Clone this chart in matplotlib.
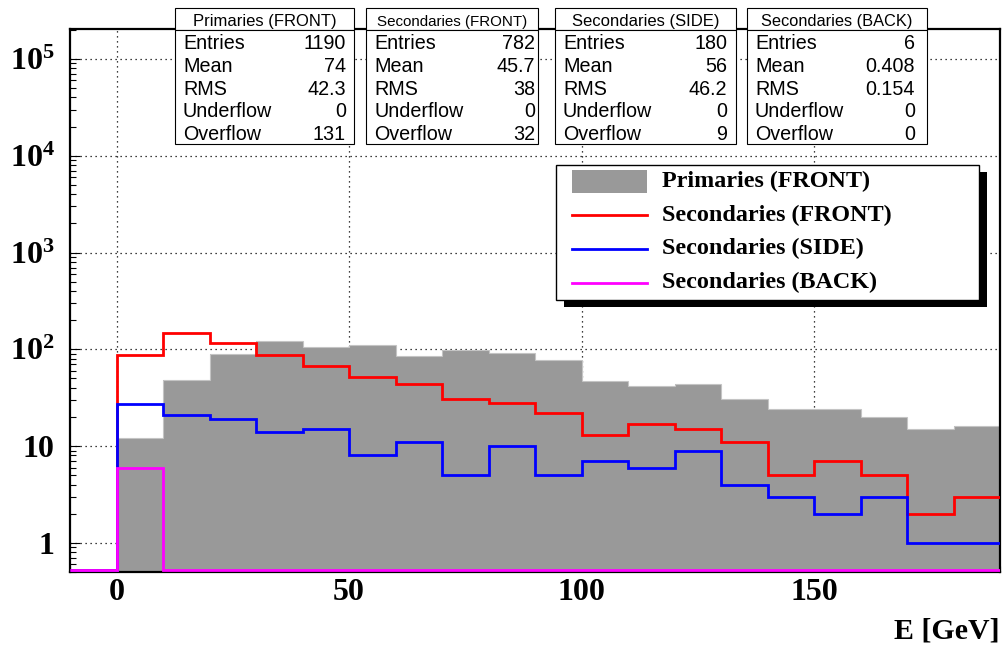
import numpy as np
import matplotlib
matplotlib.use("Agg")
import matplotlib.pyplot as plt
from matplotlib.patches import Rectangle
from matplotlib.lines import Line2D
from matplotlib.transforms import Affine2D
from matplotlib.ticker import MultipleLocator, LogLocator, NullFormatter

# ---- data (bin contents, 10 GeV bins from -10 to 190)
bin_edges = np.arange(-10, 200, 10)
primaries_front = np.array([0, 12, 48, 90, 122, 105, 112, 85, 99, 92, 77, 47, 42, 44, 31, 24, 24, 20, 15, 16])
secondaries_front = np.array([0, 88, 147, 115, 87, 67, 52, 44, 31, 28, 22, 13, 17, 15, 11, 5, 7, 5, 2, 3])
secondaries_side = np.array([0, 27, 21, 19, 14, 15, 8, 11, 5, 10, 5, 7, 6, 9, 4, 3, 2, 3, 1, 1])
secondaries_back = np.array([0, 6, 0, 0, 0, 0, 0, 0, 0, 0, 0, 0, 0, 0, 0, 0, 0, 0, 0, 0])

series_names = ["Primaries (FRONT)", "Secondaries (FRONT)", "Secondaries (SIDE)", "Secondaries (BACK)"]
line_colors = ["red", "blue", "magenta"]

stat_names = ["Entries", "Mean", "RMS", "Underflow", "Overflow"]
stat_values = [
    ["1190", "74", "42.3", "0", "131"],
    ["782", "45.7", "38", "0", "32"],
    ["180", "56", "46.2", "0", "9"],
    ["6", "0.408", "0.154", "0", "0"],
]

xticks = [0, 50, 100, 150]
yticks = [1, 10, 100, 1e3, 1e4, 1e5]
ytick_labels = ["1", "10", r"$10^{2}$", r"$10^{3}$", r"$10^{4}$", r"$10^{5}$"]

# ---- style
W, H = 1005, 647
serif_bold = dict(family="Liberation Serif", weight="bold")
plt.rcParams["mathtext.fontset"] = "custom"
plt.rcParams["mathtext.rm"] = "Liberation Serif:bold"
plt.rcParams["mathtext.bf"] = "Liberation Serif:bold"
plt.rcParams["mathtext.it"] = "Liberation Serif:bold"

ymin, ymax = 0.5, 2.04e5
floor = 0.52   # empty bins are drawn on the bottom of the frame, like ROOT does

fig = plt.figure(figsize=(W / 100, H / 100), dpi=100)
# pixel coordinates, y going down
px = Affine2D().scale(1 / W, -1 / H).translate(0, 1) + fig.transFigure

ax = fig.add_axes([70 / W, (H - 572) / H, 930 / W, 543 / H])
ax.set_yscale("log")
ax.set_xlim(-10, 190)
ax.set_ylim(ymin, ymax)

def shown(v):
    return np.where(v > 0, v, floor)

ax.stairs(shown(primaries_front), bin_edges, fill=True, baseline=1e-3,
          color="#999999", lw=0, zorder=2)
ax.stairs(shown(primaries_front), bin_edges, baseline=None, color="#c4c4c4", lw=0.8, zorder=2.1)
for vals, col in zip([secondaries_front, secondaries_side, secondaries_back], line_colors):
    ax.stairs(shown(vals), bin_edges, baseline=None, color=col, lw=2.0, zorder=3)

ax.set_xticks(xticks)
ax.set_xticklabels([str(t) for t in xticks], fontsize=23, **serif_bold)
ax.xaxis.set_minor_locator(MultipleLocator(10))
ax.set_yticks(yticks)
ax.set_yticklabels(ytick_labels, fontsize=23, **serif_bold)
ax.yaxis.set_minor_locator(LogLocator(base=10, subs=np.arange(2, 10)))
ax.yaxis.set_minor_formatter(NullFormatter())
ax.tick_params(axis="both", which="major", direction="in", length=7, width=0.8,
               top=False, right=False)
ax.tick_params(axis="both", which="minor", direction="in", length=4.5, width=0.8,
               top=False, right=False)
ax.tick_params(axis="x", which="major", pad=4)
ax.tick_params(axis="y", which="major", pad=11)

ax.grid(True, which="major", ls=(0, (1, 3)), color="black", lw=0.9)
ax.set_axisbelow(True)
for s in ax.spines.values():
    s.set_linewidth(1.6)

ax.set_xlabel("E [GeV]", fontsize=21.5, **serif_bold)
ax.xaxis.label.set_ha("right")
ax.xaxis.label.set_va("baseline")
ax.xaxis.set_label_coords(1.0, -(639 - 572) / 543)

# ---- stat boxes (ROOT shrinks the title text to fit the box)
box_x = [(175, 354), (366, 538), (555, 736), (747, 927)]
value_right = [346, 535, 727, 915]
title_size = [12, 10.9, 12, 11.8]
for (x0, x1), title, vals, vr, ts in zip(box_x, series_names, stat_values, value_right, title_size):
    fig.add_artist(Rectangle((x0, 8), x1 - x0, 21.5, transform=px, fc="white", ec="black", lw=0.8))
    fig.add_artist(Rectangle((x0, 29.5), x1 - x0, 114.5, transform=px, fc="white", ec="black", lw=0.8))
    fig.text((x0 + x1) / 2, 26, title, transform=px, ha="center", va="baseline",
             fontsize=ts, family="Liberation Sans")
    for i, (name, v) in enumerate(zip(stat_names, vals)):
        yb = 49 + 22.8 * i
        fig.text(x0 + 8, yb, name, transform=px, ha="left", va="baseline",
                 fontsize=14.2, family="Liberation Sans")
        fig.text(vr, yb, v, transform=px, ha="right", va="baseline",
                 fontsize=14.2, family="Liberation Sans")

# ---- legend with ROOT-like shadow
fig.add_artist(Rectangle((564, 172), 423, 135, transform=px, fc="black", ec="black", lw=0))
fig.add_artist(Rectangle((556, 165), 423, 135, transform=px, fc="white", ec="black", lw=1))
row_y = [181.7, 215, 248.5, 282.5]
fig.add_artist(Rectangle((572, 170), 75, 23, transform=px, fc="#999999", ec="none"))
for y, col in zip(row_y[1:], line_colors):
    fig.add_artist(Line2D([572, 647], [y, y], transform=px, color=col, lw=2.0))
for y, name in zip(row_y, series_names):
    fig.text(662, y, name, transform=px, ha="left", va="center", fontsize=17.4, **serif_bold)

fig.savefig("out.png", dpi=100)
